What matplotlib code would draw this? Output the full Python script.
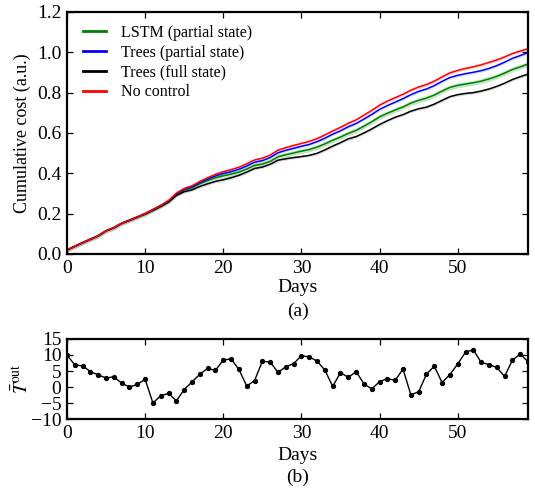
import matplotlib
matplotlib.use("Agg")
import matplotlib.pyplot as plt
import numpy as np

days = list(range(60))

cost_no_control = [0.020, 0.038, 0.056, 0.073, 0.090, 0.115, 0.130, 0.152, 0.167, 0.183,
                   0.200, 0.220, 0.240, 0.265, 0.302, 0.325, 0.338, 0.360, 0.378, 0.395,
                   0.408, 0.418, 0.430, 0.447, 0.466, 0.475, 0.490, 0.515, 0.527, 0.538,
                   0.548, 0.558, 0.572, 0.590, 0.610, 0.628, 0.648, 0.665, 0.688, 0.712,
                   0.738, 0.758, 0.775, 0.792, 0.812, 0.828, 0.840, 0.857, 0.878, 0.898,
                   0.910, 0.920, 0.928, 0.938, 0.950, 0.962, 0.977, 0.994, 1.006, 1.018]

cost_trees_partial = [0.020, 0.038, 0.056, 0.073, 0.090, 0.115, 0.130, 0.152, 0.167, 0.183,
                      0.200, 0.220, 0.240, 0.263, 0.299, 0.321, 0.333, 0.354, 0.371, 0.387,
                      0.399, 0.408, 0.420, 0.436, 0.455, 0.463, 0.478, 0.502, 0.514, 0.524,
                      0.534, 0.543, 0.557, 0.574, 0.594, 0.611, 0.631, 0.647, 0.669, 0.692,
                      0.717, 0.736, 0.753, 0.770, 0.790, 0.806, 0.818, 0.835, 0.856, 0.875,
                      0.886, 0.894, 0.901, 0.909, 0.920, 0.934, 0.951, 0.970, 0.984, 0.998]

cost_lstm_partial = [0.020, 0.038, 0.056, 0.073, 0.090, 0.115, 0.130, 0.152, 0.167, 0.183,
                     0.200, 0.220, 0.240, 0.261, 0.296, 0.317, 0.328, 0.348, 0.364, 0.378,
                     0.388, 0.396, 0.406, 0.421, 0.439, 0.446, 0.459, 0.482, 0.492, 0.501,
                     0.510, 0.518, 0.530, 0.546, 0.564, 0.580, 0.598, 0.613, 0.634, 0.656,
                     0.680, 0.698, 0.714, 0.729, 0.748, 0.762, 0.773, 0.788, 0.808, 0.826,
                     0.836, 0.843, 0.849, 0.857, 0.868, 0.881, 0.897, 0.915, 0.928, 0.942]

cost_trees_full = [0.020, 0.038, 0.056, 0.073, 0.090, 0.115, 0.130, 0.152, 0.167, 0.183,
                   0.197, 0.216, 0.235, 0.257, 0.290, 0.309, 0.318, 0.335, 0.348, 0.360,
                   0.368, 0.378, 0.390, 0.406, 0.424, 0.431, 0.445, 0.465, 0.472, 0.478,
                   0.483, 0.489, 0.499, 0.516, 0.535, 0.552, 0.571, 0.582, 0.600, 0.620,
                   0.642, 0.661, 0.678, 0.691, 0.708, 0.720, 0.728, 0.743, 0.762, 0.780,
                   0.790, 0.796, 0.800, 0.808, 0.818, 0.831, 0.847, 0.865, 0.879, 0.892]

band_halfwidth = {"LSTM": 0.012, "TreesP": 0.007, "TreesF": 0.007, "NoCtrl": 0.008}

t_out = [10.0, 6.9, 6.6, 4.8, 3.8, 2.8, 3.2, 1.2, 0.0, 0.8,
         2.4, -5.0, -2.7, -2.0, -4.3, -0.8, 1.6, 4.0, 5.8, 5.2,
         8.4, 8.8, 5.5, 0.3, 2.0, 8.0, 7.8, 4.6, 6.3, 7.3,
         9.8, 9.4, 8.1, 5.3, 0.2, 4.5, 3.0, 4.8, 1.0, -0.6,
         1.7, 2.6, 2.1, 5.6, -2.4, -1.5, 4.0, 6.5, 1.4, 3.9,
         7.2, 10.9, 11.6, 7.7, 7.0, 6.1, 3.3, 8.4, 10.3, 7.9]

plt.rcParams['font.family'] = ['Liberation Serif', 'DejaVu Serif']
plt.rcParams['mathtext.fontset'] = 'stix'

fig = plt.figure(figsize=(5.35, 4.93), dpi=100)
ax1 = fig.add_axes([0.1252, 0.4848, 0.8618, 0.4909])
ax2 = fig.add_axes([0.1252, 0.1500, 0.8618, 0.1624])

x = np.array(days)
series = [
    ("LSTM (partial state)", cost_lstm_partial, "green", band_halfwidth["LSTM"], "#2ca02c"),
    ("Trees (partial state)", cost_trees_partial, "blue", band_halfwidth["TreesP"], "#6f8fff"),
    ("Trees (full state)", cost_trees_full, "black", band_halfwidth["TreesF"], "#888888"),
    ("No control", cost_no_control, "red", band_halfwidth["NoCtrl"], "#ff6666"),
]
for label, vals, col, hw, bandcol in series:
    v = np.array(vals)
    ax1.fill_between(x, v - hw, v + hw, color=bandcol, alpha=0.28, linewidth=0)
for label, vals, col, hw, bandcol in series:
    ax1.plot(x, vals, color=col, lw=1.1, label=label)

ax1.set_xlim(0, 59)
ax1.set_ylim(0, 1.2)
ax1.set_yticks([0.0, 0.2, 0.4, 0.6, 0.8, 1.0, 1.2])
ax1.set_xticks([0, 10, 20, 30, 40, 50])
ax1.set_ylabel("Cumulative cost (a.u.)", fontsize=13, labelpad=4)
leg = ax1.legend(loc="upper left", frameon=False, fontsize=11.5, handlelength=1.4,
                 borderaxespad=0.4, labelspacing=0.24, handletextpad=0.95,
                 bbox_to_anchor=(0.008, 1.0))
for h in leg.get_lines():
    h.set_linewidth(2.0)

ax2.plot(x, t_out, color="black", lw=1.0, marker="o", markersize=2.8)
ax2.set_xlim(0, 59)
ax2.set_ylim(-10, 15)
ax2.set_yticks([-10, -5, 0, 5, 10, 15])
ax2.set_xticks([0, 10, 20, 30, 40, 50])
ax2.set_ylabel(r"$\bar{T}^{\mathrm{out}}$", fontsize=14, labelpad=-1)

for ax in (ax1, ax2):
    ax.tick_params(direction="in", top=True, right=True, labelsize=14, length=4.5, width=0.9, pad=4)
    for s in ax.spines.values():
        s.set_linewidth(1.6)

fig.text(0.5566, 1 - 288 / 493, "Days", ha="center", va="center", fontsize=14)
fig.text(0.5566, 1 - 311 / 493, "(a)", ha="center", va="center", fontsize=14)
fig.text(0.5566, 1 - 455 / 493, "Days", ha="center", va="center", fontsize=14)
fig.text(0.5566, 1 - 477 / 493, "(b)", ha="center", va="center", fontsize=14)

fig.savefig("out.png", dpi=100)
